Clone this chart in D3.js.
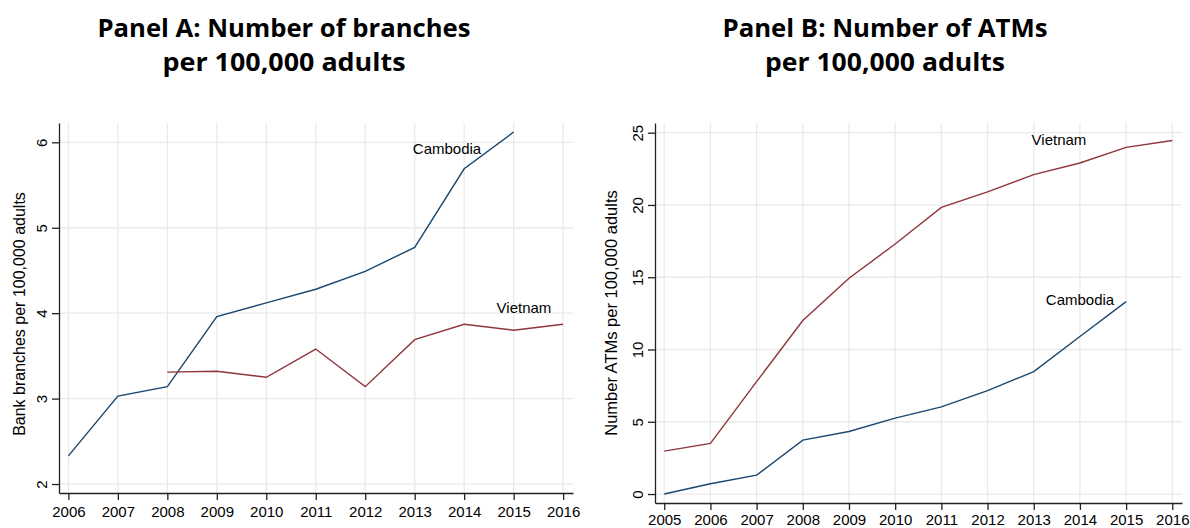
<!DOCTYPE html>
<html>
<head>
<meta charset="utf-8">
<script src="https://cdn.jsdelivr.net/npm/d3@7"></script>
<style>
  body { margin: 0; background: #fff; }
  svg { display: block; }
</style>
</head>
<body>
<div class="chart"></div>
<script>
// ---- data ----
var yearsA = [2006, 2007, 2008, 2009, 2010, 2011, 2012, 2013, 2014, 2015, 2016];
var cambodiaBranches = [2.33, 3.03, 3.14, 3.96, 4.12, 4.28, 4.49, 4.77, 5.69, 6.12, null];
var vietnamBranches = [null, null, 3.31, 3.32, 3.25, 3.58, 3.14, 3.69, 3.87, 3.80, 3.87];
var yTicksA = [2, 3, 4, 5, 6];

var yearsB = [2005, 2006, 2007, 2008, 2009, 2010, 2011, 2012, 2013, 2014, 2015, 2016];
var cambodiaATMs = [0.0, 0.71, 1.31, 3.73, 4.33, 5.25, 6.03, 7.16, 8.47, 10.9, 13.31, null];
var vietnamATMs = [2.97, 3.50, 7.78, 12.0, 14.93, 17.3, 19.83, 20.9, 22.1, 22.9, 23.98, 24.46];
var yTicksB = [0, 5, 10, 15, 20, 25];

var svgWidth = 1190;
var svgHeight = 528;
var blue = "#1a476f";
var red = "#90353b";

var svg = d3.select(".chart")
    .append("svg")
    .attr("width", svgWidth)
    .attr("height", svgHeight);

/*************** one panel ***************/
function drawPanel(p) {
    var x = d3.scaleLinear().domain(p.xDomain).range([p.left, p.right]);
    var y = d3.scaleLinear().domain(p.yDomain).range([p.bottom, p.top]);

    var g = svg.append("g");

    // title
    var title = g.append("text")
        .attr("text-anchor", "middle")
        .attr("font-family", "'Open Sans', sans-serif")
        .attr("font-weight", "bold")
        .attr("font-size", "25px")
        .attr("fill", "#000");
    title.append("tspan").attr("x", p.titleX).attr("y", 37).attr("textLength", p.titleW1)
        .attr("lengthAdjust", "spacingAndGlyphs").text(p.title[0]);
    title.append("tspan").attr("x", p.titleX).attr("y", 71).attr("textLength", p.titleW2)
        .attr("lengthAdjust", "spacingAndGlyphs").text(p.title[1]);

    // grid
    g.append("g").selectAll("line")
        .data(p.years)
        .join("line")
        .attr("x1", d => x(d)).attr("x2", d => x(d))
        .attr("y1", p.top).attr("y2", p.bottom)
        .attr("stroke", "#eaeaea").attr("stroke-width", 1.3);
    g.append("g").selectAll("line")
        .data(p.yTicks)
        .join("line")
        .attr("x1", p.left).attr("x2", p.right)
        .attr("y1", d => y(d)).attr("y2", d => y(d))
        .attr("stroke", "#eaeaea").attr("stroke-width", 1.3);

    // axes
    var bottomAxis = d3.axisBottom(x).tickValues(p.years).tickFormat(d3.format("d"))
        .tickSizeInner(7).tickSizeOuter(0);
    var leftAxis = d3.axisLeft(y).tickValues(p.yTicks).tickFormat(d3.format("d"))
        .tickSizeInner(7).tickSizeOuter(0);

    var xAxis = g.append("g")
        .attr("transform", `translate(0,${p.bottom})`)
        .call(bottomAxis);
    xAxis.selectAll("text")
        .attr("font-family", "'Liberation Sans', Arial, sans-serif")
        .attr("font-size", "15px").attr("fill", "#000")
        .attr("y", p.xLabelDy);

    var yAxis = g.append("g")
        .attr("transform", `translate(${p.left},0)`)
        .call(leftAxis);
    // Stata-style vertical tick labels
    yAxis.selectAll(".tick text")
        .attr("font-family", "'Liberation Sans', Arial, sans-serif")
        .attr("font-size", "15px").attr("fill", "#000")
        .attr("text-anchor", "middle")
        .attr("x", 0).attr("y", -17).attr("dy", "0.35em")
        .attr("transform", "rotate(-90)");

    [xAxis, yAxis].forEach(function(a) {
        a.select(".domain").attr("stroke", "#222").attr("stroke-width", 1.3);
        a.selectAll(".tick line").attr("stroke", "#222").attr("stroke-width", 1.3);
    });

    // y title
    g.append("text")
        .attr("transform", `translate(${p.yTitleX},${(p.top + p.bottom) / 2 + p.yTitleShift}) rotate(-90)`)
        .attr("text-anchor", "middle")
        .attr("dy", "0.35em")
        .attr("font-family", "'Liberation Sans', Arial, sans-serif")
        .attr("font-size", p.yTitleSize)
        .attr("fill", "#000")
        .text(p.yTitle);

    // lines
    var line = d3.line()
        .defined(d => d.v !== null)
        .x(d => x(d.year))
        .y(d => y(d.v));

    p.series.forEach(function(s) {
        var pts = p.years.map((yr, i) => ({ year: yr, v: s.values[i] }));
        g.append("path")
            .datum(pts)
            .attr("fill", "none")
            .attr("stroke", s.color)
            .attr("stroke-width", 1.4)
            .attr("d", line);
        g.append("text")
            .attr("x", s.labelX).attr("y", s.labelY)
            .attr("dy", "0.35em")
            .attr("text-anchor", "middle")
            .attr("font-family", "'Liberation Sans', Arial, sans-serif")
            .attr("font-size", "15px")
            .attr("fill", "#000")
            .text(s.name);
    });
}

drawPanel({
    title: ["Panel A: Number of branches", "per 100,000 adults"],
    titleX: 284, titleW1: 373, titleW2: 243,
    years: yearsA, yTicks: yTicksA,
    xDomain: [2005.81, 2016.2], yDomain: [1.895, 6.226],
    left: 59, right: 573, top: 123, bottom: 493,
    xLabelDy: 13,
    yTitle: "Bank branches per 100,000 adults", yTitleX: 19, yTitleSize: "16px", yTitleShift: 6,
    series: [
        { name: "Cambodia", values: cambodiaBranches, color: blue, labelX: 447, labelY: 149 },
        { name: "Vietnam", values: vietnamBranches, color: red, labelX: 524, labelY: 308 }
    ]
});

drawPanel({
    title: ["Panel B: Number of ATMs", "per 100,000 adults"],
    titleX: 885, titleW1: 325, titleW2: 240,
    years: yearsB, yTicks: yTicksB,
    xDomain: [2004.8, 2016.21], yDomain: [-0.62, 25.67],
    left: 655, right: 1182, top: 123, bottom: 503,
    xLabelDy: 11,
    yTitle: "Number ATMs per 100,000 adults", yTitleX: 611, yTitleSize: "16.5px", yTitleShift: 0,
    series: [
        { name: "Vietnam", values: vietnamATMs, color: red, labelX: 1059, labelY: 140 },
        { name: "Cambodia", values: cambodiaATMs, color: blue, labelX: 1080, labelY: 300 }
    ]
});
</script>
</body>
</html>
